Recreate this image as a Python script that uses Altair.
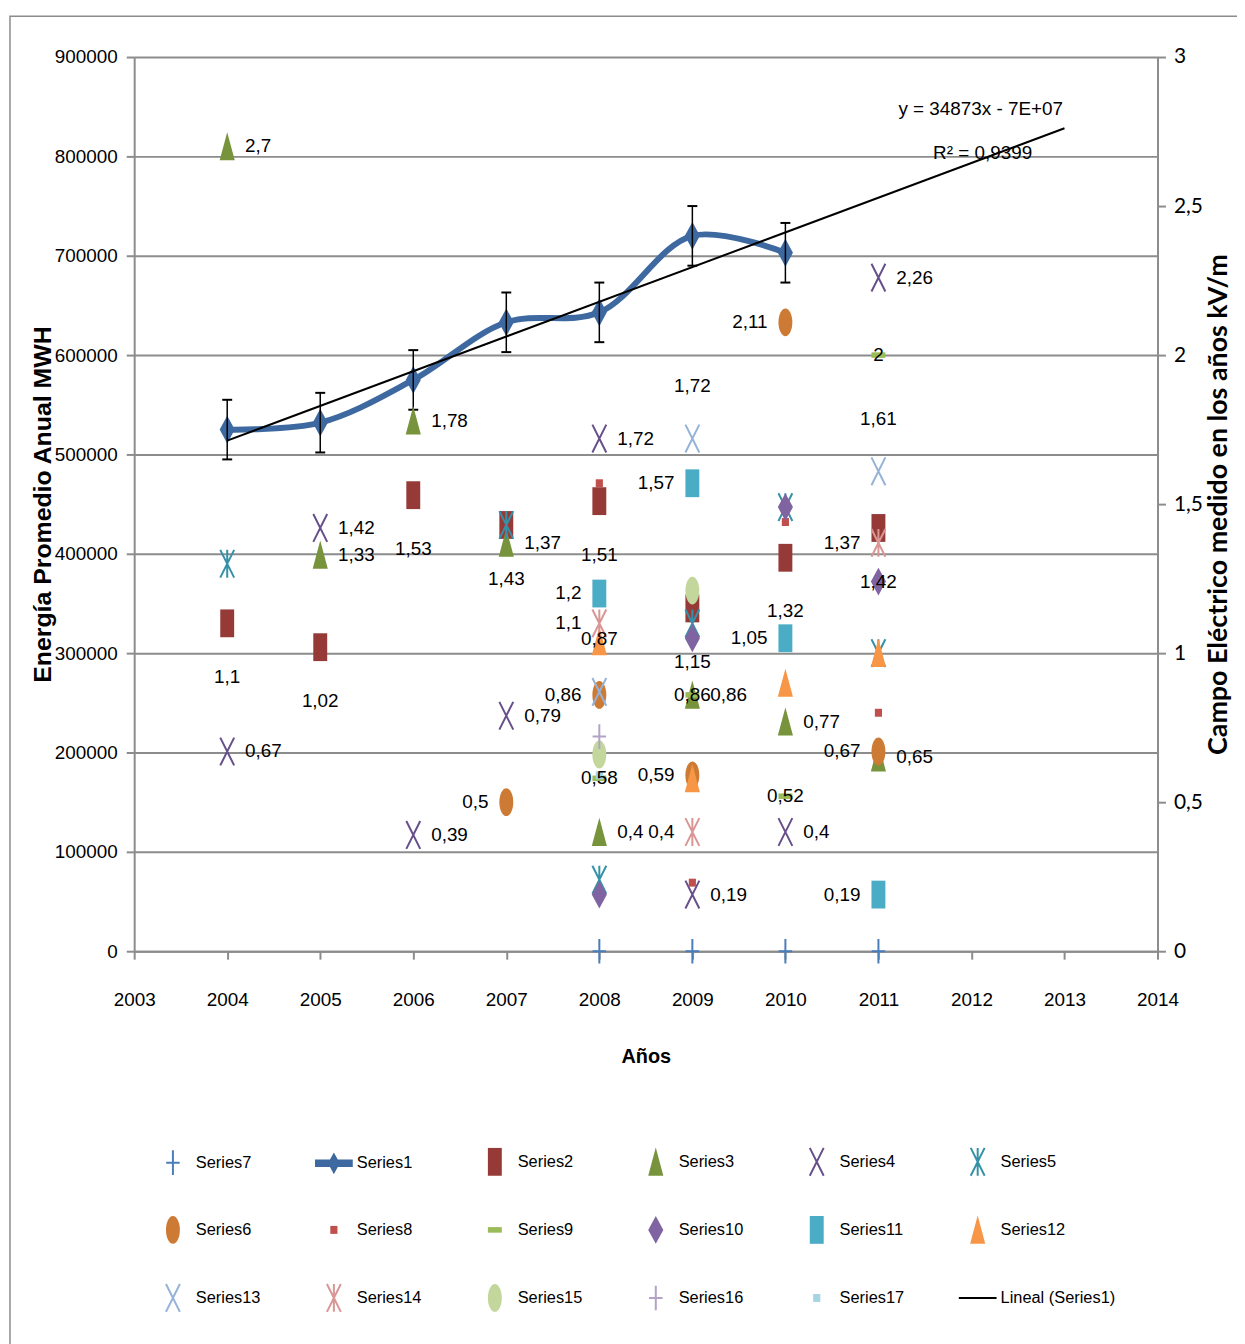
import altair as alt
import pandas as pd

# ---------------- data ----------------
YEARS = [2003, 2004, 2005, 2006, 2007, 2008, 2009, 2010, 2011, 2012, 2013, 2014]
LEFT_TICKS = [0, 100000, 200000, 300000, 400000, 500000, 600000, 700000, 800000, 900000]
RIGHT_TICKS = [0, 0.5, 1, 1.5, 2, 2.5, 3]

S1_YEARS = [2004, 2005, 2006, 2007, 2008, 2009, 2010]
S1_ENERGY = [525000, 532000, 575000, 633000, 643000, 720000, 703000]
S1_ERROR = [30000, 30000, 30000, 30000, 30000, 30000, 30000]

SERIES7 = {2008: 0, 2009: 0, 2010: 0, 2011: 0}
SERIES2 = {2004: 1.1, 2005: 1.02, 2006: 1.53, 2007: 1.43, 2008: 1.51, 2009: 1.15, 2010: 1.32, 2011: 1.42}
SERIES3 = {2004: 2.7, 2005: 1.33, 2006: 1.78, 2007: 1.37, 2008: 0.4, 2009: 0.86, 2010: 0.77, 2011: 0.65}
SERIES4 = {2004: 0.67, 2005: 1.42, 2006: 0.39, 2007: 0.79, 2008: 1.72, 2009: 0.19, 2010: 0.4, 2011: 2.26}
SERIES5 = {2004: 1.3, 2007: 1.43, 2008: 0.24, 2009: 1.1, 2010: 1.49, 2011: 1.0}
SERIES6 = {2007: 0.5, 2008: 0.86, 2009: 0.59, 2010: 2.11, 2011: 0.67}
SERIES8 = {2008: 1.57, 2009: 0.23, 2010: 1.44, 2011: 0.8}
SERIES9 = {2008: 0.58, 2009: 0.86, 2010: 0.52, 2011: 2.0}
SERIES10 = {2008: 0.19, 2009: 1.05, 2010: 1.49, 2011: 1.24}
SERIES11 = {2008: 1.2, 2009: 1.57, 2010: 1.05, 2011: 0.19}
SERIES12 = {2008: 1.04, 2009: 0.58, 2010: 0.9, 2011: 1.0}
SERIES13 = {2008: 0.87, 2009: 1.72, 2011: 1.61}
SERIES14 = {2008: 1.1, 2009: 0.4, 2011: 1.37}
SERIES15 = {2008: 0.66, 2009: 1.21}
SERIES16 = {2008: 0.72}
SERIES17 = {2008: 0.59}

TREND_TEXT = ["y = 34873x - 7E+07", "R\u00b2 = 0,9399"]
TREND_TEXT_X = [2012.1, 2012.12]
TREND_TEXT_Y = [848000, 803000]

DRAW = [
    ("Series7", SERIES7), ("Series2", SERIES2), ("Series3", SERIES3), ("Series4", SERIES4),
    ("Series5", SERIES5), ("Series6", SERIES6), ("Series8", SERIES8), ("Series9", SERIES9),
    ("Series10", SERIES10), ("Series11", SERIES11), ("Series12", SERIES12), ("Series13", SERIES13),
    ("Series14", SERIES14), ("Series15", SERIES15), ("Series16", SERIES16), ("Series17", SERIES17),
]

LEGEND_ORDER = ["Series7", "Series1", "Series2", "Series3", "Series4", "Series5",
                "Series6", "Series8", "Series9", "Series10", "Series11", "Series12",
                "Series13", "Series14", "Series15", "Series16", "Series17", "Lineal (Series1)"]

# label placement per series (style)
LABEL_POS = {"Series2": "below", "Series3": "right", "Series4": "right", "Series6": "left",
             "Series9": "center", "Series11": "left", "Series13": "above", "Series14": "left"}

# ---------------- styles ----------------
S1_COLOR = "#3E69A0"
GRID = "#8C8C8C"
NARROW = "Liberation Sans, Arial, sans-serif"
FS = 19

RECT = "M-0.35,-0.7H0.35V0.7H-0.35Z"
TRI = "M0,-0.72L0.38,0.7H-0.38Z"
XSHP = "M-0.35,-0.7L0.35,0.7M0.35,-0.7L-0.35,0.7"
STAR = "M-0.35,-0.7L0.35,0.7M0.35,-0.7L-0.35,0.7M0,-0.7V0.7"
ELLIPSE = "M0,-0.7A0.35,0.7,0,1,1,0,0.7A0.35,0.7,0,1,1,0,-0.7Z"
DIAMOND = "M0,-0.7L0.38,0L0,0.7L-0.38,0Z"
SMALLSQ = "M-0.18,-0.2H0.18V0.2H-0.18Z"
DASH = "M-0.35,-0.14H0.35V0.14H-0.35Z"
PLUS = "M-0.34,0H0.34M0,-0.62V0.62"
LINE_DIAMOND = ("M-0.95,-0.19L-0.196,-0.19L0,-0.55L0.196,-0.19L0.95,-0.19L0.95,0.19"
                "L0.196,0.19L0,0.55L-0.196,0.19L-0.95,0.19Z")
LINE_BAR = "M-0.95,-0.05H0.95V0.05H-0.95Z"

STYLE = {  # series: (shape, color, filled)
    "Series7": (PLUS, "#4A7EBB", False),
    "Series1": (LINE_DIAMOND, S1_COLOR, True),
    "Series2": (RECT, "#963A38", True),
    "Series3": (TRI, "#77933C", True),
    "Series4": (XSHP, "#664F8A", False),
    "Series5": (STAR, "#3591A8", False),
    "Series6": (ELLIPSE, "#CD7A34", True),
    "Series8": (SMALLSQ, "#C0504D", True),
    "Series9": (DASH, "#9BBB59", True),
    "Series10": (DIAMOND, "#8064A2", True),
    "Series11": (RECT, "#4BACC6", True),
    "Series12": (TRI, "#F79646", True),
    "Series13": (XSHP, "#95B3D7", False),
    "Series14": (STAR, "#D99694", False),
    "Series15": (ELLIPSE, "#C3D69B", True),
    "Series16": (PLUS, "#B3A2C7", False),
    "Series17": (SMALLSQ, "#A5D5E2", True),
    "Lineal (Series1)": (LINE_BAR, "#000000", True),
}

shape_range = [STYLE[s][0] for s in LEGEND_ORDER]
fill_range = [STYLE[s][1] if STYLE[s][2] else "transparent" for s in LEGEND_ORDER]
stroke_range = ["transparent" if STYLE[s][2] else STYLE[s][1] for s in LEGEND_ORDER]

# ---------------- tables ----------------
df1 = pd.DataFrame({
    "year": S1_YEARS,
    "energy": S1_ENERGY,
    "lo": [e - d for e, d in zip(S1_ENERGY, S1_ERROR)],
    "hi": [e + d for e, d in zip(S1_ENERGY, S1_ERROR)],
})

rows = []
for name, series in DRAW:
    for yr, v in series.items():
        rows.append({"series": name, "year": yr, "kv": v,
                     "label": f"{v:g}".replace(".", ","),
                     "pos": LABEL_POS.get(name, "none")})
dfp = pd.DataFrame(rows)

dfa = pd.DataFrame({"year": TREND_TEXT_X, "energy": TREND_TEXT_Y, "t": TREND_TEXT})

# ---------------- axes / scales ----------------
x_axis = alt.Axis(values=YEARS, format="d", grid=False, domainColor=GRID, domainWidth=2,
                  tickColor=GRID, tickWidth=2, tickSize=8, labelFont=NARROW, labelFontSize=FS,
                  labelColor="black", labelPadding=32, labelFlush=False, labelOverlap=False,
                  title="Años", titleFont=NARROW, titleFontSize=20, titleFontWeight="bold",
                  titleColor="black", titleY=106, titleBaseline="middle")
x_enc = alt.X("year:Q", scale=alt.Scale(domain=[2003, 2014], nice=False, zero=False), axis=x_axis)

left_axis = alt.Axis(orient="left", values=LEFT_TICKS, format="d", grid=True, gridColor=GRID,
                     gridWidth=2, domainColor=GRID, domainWidth=2, tickColor=GRID, tickWidth=2,
                     tickSize=8, labelFont=NARROW, labelFontSize=FS, labelColor="black",
                     labelPadding=9, title="Energía Promedio Anual MWH", titleFont="Liberation Sans",
                     titleFontWeight="bold", titleFontSize=25, titleColor="black",
                     titleX=-92, titleY=450, titleBaseline="middle", titleAlign="center")
ly_scale = alt.Scale(domain=[0, 900000], nice=False)

right_axis = alt.Axis(orient="right", values=RIGHT_TICKS, format=".1~f",
                      labelExpr="replace(datum.label, '.', ',')", grid=False, domainColor=GRID,
                      domainWidth=2, tickColor=GRID, tickWidth=2, tickSize=8, labelFont="Lato",
                      labelFontSize=21, labelColor="black", labelPadding=8,
                      title="Campo Eléctrico medido en los años kV/m", titleFont="Lato",
                      titleFontWeight="bold", titleFontSize=27, titleColor="black",
                      titleAngle=270, titleX=61, titleY=450, titleBaseline="middle",
                      titleAlign="center")
ry_scale = alt.Scale(domain=[0, 3], nice=False)

# ---------------- left group ----------------
yl = lambda f: alt.Y(f, scale=ly_scale, axis=left_axis)

line = alt.Chart(df1).mark_line(color=S1_COLOR, strokeWidth=6, interpolate="catmull-rom",
                                strokeCap="round").encode(x=x_enc, y=yl("energy:Q"))
diam = alt.Chart(df1).mark_point(shape=DIAMOND, size=1600, filled=True, color=S1_COLOR,
                                 opacity=1).encode(x=x_enc, y=yl("energy:Q"))
err = alt.Chart(df1).mark_rule(color="black", strokeWidth=1.5).encode(
    x=x_enc, y=yl("lo:Q"), y2="hi:Q")
cap_lo = alt.Chart(df1).mark_point(shape="M-1,0H1", size=100, filled=False, stroke="black",
                                   strokeWidth=2, opacity=1).encode(x=x_enc, y=yl("lo:Q"))
cap_hi = alt.Chart(df1).mark_point(shape="M-1,0H1", size=100, filled=False, stroke="black",
                                   strokeWidth=2, opacity=1).encode(x=x_enc, y=yl("hi:Q"))
trend = alt.Chart(df1).transform_regression("year", "energy", extent=[2004, 2013]).mark_line(
    color="black", strokeWidth=2).encode(x=x_enc, y=yl("energy:Q"))
ann = alt.Chart(dfa).mark_text(font=NARROW, fontSize=FS, color="black", align="center",
                               baseline="middle").encode(x=x_enc, y=yl("energy:Q"), text="t:N")

left = alt.layer(line, diam, err, cap_lo, cap_hi, trend, ann)

# ---------------- right group ----------------
leg = alt.Legend(orient="none", legendX=18, legendY=1091, columns=6, direction="horizontal",
                 title=None, symbolSize=1600, symbolStrokeWidth=2, symbolOpacity=1,
                 labelFont=NARROW, labelFontSize=16.5, labelColor="black", labelOffset=2,
                 rowPadding=29.5, columnPadding=0, gridAlign="all", padding=0, labelLimit=200)

yr = alt.Y("kv:Q", scale=ry_scale, axis=right_axis)

pts = alt.Chart(dfp).mark_point(size=1600, strokeWidth=2, opacity=1).encode(
    x=x_enc, y=yr,
    shape=alt.Shape("series:N", scale=alt.Scale(domain=LEGEND_ORDER, range=shape_range), legend=leg),
    fill=alt.Fill("series:N", scale=alt.Scale(domain=LEGEND_ORDER, range=fill_range), legend=leg),
    stroke=alt.Stroke("series:N", scale=alt.Scale(domain=LEGEND_ORDER, range=stroke_range), legend=leg),
)


def labels(pos, dx, dy, align):
    return alt.Chart(dfp).transform_filter(alt.datum.pos == pos).mark_text(
        font=NARROW, fontSize=FS, color="black", dx=dx, dy=dy, align=align, baseline="middle"
    ).encode(x=x_enc, y=yr, text="label:N")


right = alt.layer(
    pts,
    labels("right", 18, 0, "left"),
    labels("left", -18, 0, "right"),
    labels("below", 0, 54, "center"),
    labels("above", 0, -53, "center"),
    labels("center", 0, 0, "center"),
)

# ---------------- frame ----------------
frame = alt.Chart(pd.DataFrame({"a": [0]})).mark_rect(
    filled=False, stroke="#8C8C8C", strokeWidth=1.5).encode(
    x=alt.value(-125), x2=alt.value(1120), y=alt.value(-41), y2=alt.value(1300))

chart = alt.layer(frame, left, right).resolve_scale(y="independent").properties(
    width=1030, height=900,
    padding={"left": 127, "top": 45, "right": 80, "bottom": 391},
    autosize=alt.AutoSizeParams(type="none"),
    background="white",
).configure_view(stroke=None)

chart.save("out.html", embed_options={"renderer": "svg", "actions": False})
